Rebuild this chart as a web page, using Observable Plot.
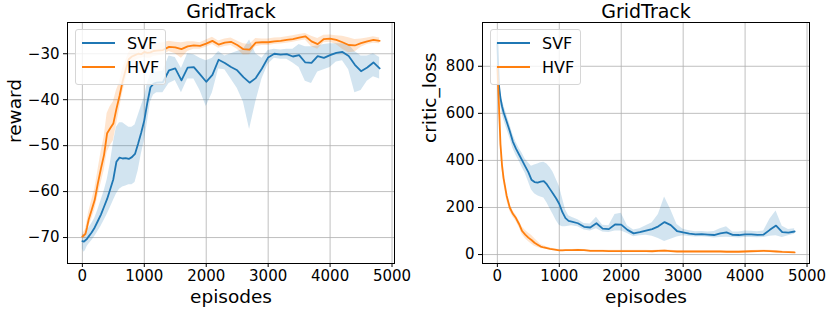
<!DOCTYPE html>
<html>
<head>
<meta charset="utf-8">
<script src="https://cdn.jsdelivr.net/npm/d3@7"></script>
<script src="https://cdn.jsdelivr.net/npm/@observablehq/plot@0.6"></script>
<style>
  body { margin: 0; background: white; font-family: "DejaVu Sans", sans-serif; }
  #wrap { display: flex; width: 830px; height: 310px; }
  .panel { position: relative; width: 415px; height: 310px; }
  .legend { position: absolute; left: 75px; top: 29px; width: 91px; height: 56px; box-sizing: border-box;
    border: 1px solid #d6d6d6; border-radius: 3px; background: rgba(255,255,255,0.8); }
  .legend .sw { position: absolute; left: 6px; width: 33px; height: 2px; }
  .legend .lab { position: absolute; left: 51px; font-size: 16px; line-height: 16px; color: black; }
  svg text { font-family: "DejaVu Sans"; }
</style>
</head>
<body>
<div id="wrap"></div>
<script>
const episodes = [0,25,50,75,100,150,200,250,300,350,400,450,500,550,600,650,700,750,800,850,900,950,1000,1050,1100,1150,1200,
  1300,1400,1500,1600,1700,1800,1900,2000,2100,2200,2300,2400,2500,2600,2700,2800,2900,3000,3100,3200,3300,3400,3500,3600,3700,3800,3900,4000,4100,4200,4300,4400,4500,4600,4700,4800];

const svfRewardMean = [-70.8,-70.9,-70.6,-70.3,-69.8,-68.9,-67.8,-66.4,-65.0,-63.3,-61.6,-59.5,-57.3,-53.5,-52.6,-52.8,-52.7,-52.9,-52.5,-51.8,-49.6,-47.2,-44.5,-40.6,-37.3,-36.5,-36.3,
  -36.2,-33.6,-33.2,-35.8,-33.0,-32.9,-34.5,-36.1,-34.6,-31.3,-32.0,-32.9,-33.6,-35.1,-36.3,-35.3,-33.2,-30.8,-30.0,-30.2,-30.1,-30.6,-30.3,-31.9,-32.0,-30.5,-30.9,-30.3,-29.8,-29.6,-30.5,-32.4,-33.8,-33.0,-31.9,-33.2];
const svfRewardLo = [-72.5,-73.2,-72.8,-72.0,-71.5,-70.7,-69.8,-68.7,-67.6,-66.3,-65.0,-63.5,-62.0,-60.5,-59.5,-59.0,-58.8,-58.5,-58.5,-58.0,-55.5,-52.0,-49.0,-45.0,-40.5,-39.0,-38.5,
  -38.5,-36.5,-35.8,-38.5,-35.5,-35.5,-38.0,-41.5,-38.5,-33.3,-33.5,-35.5,-37.5,-40.5,-46.5,-40.5,-35.5,-32.3,-31.0,-31.2,-31.2,-32.0,-33.0,-36.0,-36.5,-34.0,-33.5,-33.0,-31.8,-31.5,-33.5,-38.5,-38.0,-36.0,-35.0,-35.5];
const svfRewardHi = [-69.3,-69.5,-69.0,-68.6,-68.0,-67.0,-65.8,-64.0,-62.0,-60.0,-57.5,-54.0,-49.5,-46.0,-45.0,-45.0,-45.5,-46.0,-46.0,-45.5,-43.5,-41.5,-39.5,-36.5,-34.5,-34.0,-34.0,
  -33.8,-30.5,-30.8,-33.2,-30.0,-30.2,-31.0,-31.5,-31.0,-29.5,-30.5,-30.0,-29.5,-29.0,-27.0,-30.0,-31.0,-29.3,-29.0,-29.2,-29.0,-29.0,-28.0,-28.5,-28.5,-28.3,-28.0,-27.8,-27.8,-27.8,-28.0,-29.5,-30.5,-30.5,-30.0,-30.8];

const hvfRewardMean = [-69.8,-69.5,-69.2,-67.8,-66.2,-64.0,-61.8,-58.2,-55.0,-52.0,-47.3,-46.2,-45.2,-42.0,-39.2,-36.0,-33.5,-31.2,-30.6,-30.3,-30.0,-30.1,-29.6,-29.8,-29.7,-29.4,-29.3,
  -29.2,-28.5,-28.6,-29.0,-28.4,-28.2,-28.3,-27.8,-27.2,-28.0,-27.6,-27.4,-28.1,-29.0,-29.1,-27.6,-27.5,-27.5,-27.3,-27.2,-27.0,-26.8,-26.5,-26.2,-27.3,-27.9,-26.8,-26.7,-27.0,-27.5,-28.1,-28.2,-27.7,-27.3,-27.0,-27.2];
const hvfRewardLo = [-70.3,-70.2,-70.0,-69.0,-67.8,-66.0,-64.0,-61.0,-58.3,-55.5,-51.5,-50.0,-49.0,-45.5,-42.0,-38.5,-35.8,-33.0,-32.0,-31.5,-31.2,-31.0,-30.8,-31.0,-31.0,-30.6,-30.5,
  -30.3,-29.5,-30.0,-31.0,-29.5,-29.0,-29.0,-28.6,-28.0,-28.8,-28.4,-28.2,-29.0,-30.3,-30.2,-28.5,-28.2,-28.2,-28.0,-27.9,-27.7,-27.5,-27.2,-27.0,-28.5,-29.0,-27.6,-27.5,-28.0,-29.0,-29.8,-29.6,-28.6,-28.0,-27.7,-27.8];
const hvfRewardHi = [-69.3,-68.8,-68.3,-66.5,-64.6,-62.0,-59.5,-55.5,-51.5,-48.3,-43.0,-41.5,-40.5,-38.0,-36.2,-33.2,-31.5,-29.8,-29.0,-28.8,-28.6,-28.8,-28.3,-28.0,-27.8,-27.8,-27.8,
  -27.6,-27.3,-27.5,-27.6,-27.4,-27.4,-27.6,-27.0,-26.4,-27.2,-26.8,-26.6,-27.2,-27.8,-28.0,-26.7,-26.8,-26.8,-26.6,-26.5,-26.3,-26.1,-25.8,-25.6,-26.2,-26.7,-26.0,-25.9,-26.1,-26.2,-26.5,-26.9,-26.8,-26.6,-26.3,-26.6];

const svfLossMean = [900,720,665,630,605,565,525,480,450,425,400,375,350,318,308,306,310,312,298,278,258,238,215,180,155,143,140,
  133,118,115,133,110,108,128,127,105,90,95,102,108,120,138,125,100,94,89,86,87,85,83,90,94,84,83,86,86,84,85,105,123,95,93,98];
const svfLossLo = [860,690,635,600,575,535,495,452,422,398,370,345,310,275,258,250,245,240,220,195,170,145,125,118,118,120,122,
  118,104,100,110,96,94,100,100,90,76,80,82,78,68,55,65,75,80,77,75,76,74,70,72,74,72,70,72,73,71,72,78,80,72,80,86];
const svfLossHi = [940,755,695,660,635,595,555,510,478,452,430,405,390,375,380,385,390,392,385,370,350,320,290,240,190,165,158,
  148,132,130,158,124,122,170,175,122,104,110,122,135,170,245,190,128,108,101,97,98,96,98,110,118,96,96,100,99,97,100,150,185,120,106,110];

const hvfLossMean = [800,640,470,380,325,250,200,173,155,130,100,85,72,62,50,42,34,30,27,24,22,20,18,18,19,19,19,
  20,19,16,16,16,15,15,15,15,15,15,15,14,16,17,15,13,13,13,13,13,13,13,13,12,12,12,13,14,15,16,15,13,11,10,9];
const hvfLossLo = [780,615,445,360,305,232,185,160,142,116,85,68,55,45,35,30,26,24,22,20,18,16,15,15,16,16,16,
  17,16,13,13,13,12,12,12,12,12,12,12,11,13,14,12,10,10,10,10,10,10,10,10,9,9,9,10,11,12,13,12,10,8,7,6];
const hvfLossHi = [820,665,495,400,345,268,215,186,168,145,117,103,92,82,68,55,43,37,32,28,26,24,22,21,22,22,22,
  23,22,19,19,19,18,18,18,18,18,18,18,17,19,20,18,16,16,16,16,16,16,16,16,15,15,15,16,17,18,19,18,16,14,13,12];

const seriesNames = ["SVF", "HVF"];
const seriesColors = ["#1f77b4", "#ff7f0e"];
const xTicks = [0, 1000, 2000, 3000, 4000, 5000];
const rewardTicks = [-70, -60, -50, -40, -30];
const lossTicks = [0, 200, 400, 600, 800];
const titleText = "GridTrack";
const xLabel = "episodes";
const yLabels = ["reward", "critic_loss"];

function table(m, lo, hi) {
  return episodes.map((ep, i) => ({ep, mean: m[i], lo: lo[i], hi: hi[i]}));
}
const fmt = d => d < 0 ? "\u2212" + Math.abs(d) : String(d);

function panel(series, yDomain, yTicks, yLabel) {
  const marks = [
    Plot.gridX(xTicks, {stroke: "#b0b0b0", strokeOpacity: 1, strokeWidth: 0.8}),
    Plot.gridY(yTicks, {stroke: "#b0b0b0", strokeOpacity: 1, strokeWidth: 0.8})
  ];
  series.forEach((s, k) => {
    marks.push(Plot.areaY(s, {x: "ep", y1: "lo", y2: "hi", fill: seriesColors[k], fillOpacity: 0.2}));
    marks.push(Plot.lineY(s, {x: "ep", y: "mean", stroke: seriesColors[k], strokeWidth: 1.8}));
  });
  marks.push(
    Plot.frame({stroke: "black", strokeWidth: 1}),
    Plot.axisX({ticks: xTicks, tickSize: 4, tickPadding: 3, label: null, fontSize: 15, tickFormat: fmt}),
    Plot.axisY({ticks: yTicks, tickSize: 4, tickPadding: 4, label: null, fontSize: 15, tickFormat: fmt}),
    Plot.text([titleText], {frameAnchor: "top", dy: -5, lineAnchor: "bottom", fontSize: 19, fill: "black"}),
    Plot.text([xLabel], {frameAnchor: "bottom", dy: 39, lineAnchor: "bottom", fontSize: 18.5, fill: "black"}),
    Plot.text([yLabel], {frameAnchor: "left", dx: -47, rotate: -90, lineAnchor: "bottom", fontSize: 18.5, fill: "black"})
  );
  return Plot.plot({
    width: 415, height: 310,
    marginTop: 22, marginRight: 21, marginBottom: 47, marginLeft: 67,
    style: {fontFamily: "DejaVu Sans", fontSize: "15px", color: "black", background: "white", overflow: "visible"},
    x: {domain: [-240, 5040]},
    y: {domain: yDomain},
    marks
  });
}

function legend() {
  const lg = document.createElement("div");
  lg.className = "legend";
  seriesNames.forEach((n, k) => {
    const sw = document.createElement("div");
    sw.className = "sw";
    sw.style.top = (12 + k * 24) + "px";
    sw.style.background = seriesColors[k];
    const lab = document.createElement("div");
    lab.className = "lab";
    lab.style.top = (6 + k * 24) + "px";
    lab.textContent = n;
    lg.appendChild(sw);
    lg.appendChild(lab);
  });
  return lg;
}

const wrap = document.getElementById("wrap");
const configs = [
  {series: [table(svfRewardMean, svfRewardLo, svfRewardHi), table(hvfRewardMean, hvfRewardLo, hvfRewardHi)], dom: [-75.65, -23.2], ticks: rewardTicks, label: yLabels[0]},
  {series: [table(svfLossMean, svfLossLo, svfLossHi), table(hvfLossMean, hvfLossLo, hvfLossHi)], dom: [-38, 986], ticks: lossTicks, label: yLabels[1]}
];
configs.forEach(c => {
  const p = document.createElement("div");
  p.className = "panel";
  p.appendChild(panel(c.series, c.dom, c.ticks, c.label));
  p.appendChild(legend());
  wrap.appendChild(p);
});
</script>
</body>
</html>
